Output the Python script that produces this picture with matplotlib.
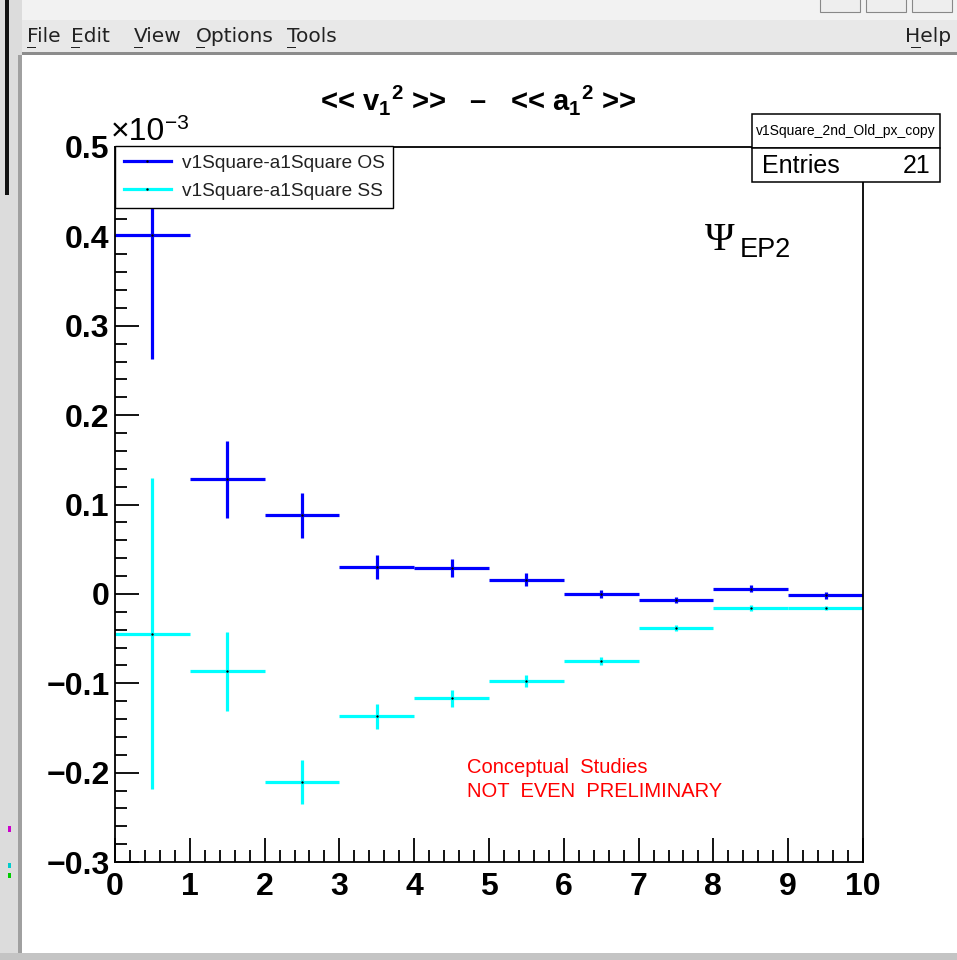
import numpy as np
import matplotlib
matplotlib.use('Agg')
import matplotlib.pyplot as plt
from matplotlib.patches import Rectangle
from matplotlib.lines import Line2D
from matplotlib.ticker import MultipleLocator, FuncFormatter

# bin centres (x error = half bin width)
bin_centers = [0.5, 1.5, 2.5, 3.5, 4.5, 5.5, 6.5, 7.5, 8.5, 9.5]
bin_half_width = 0.5

# values in units of 1e-3
os_values = [0.401, 0.128, 0.088, 0.0305, 0.0287, 0.016, 0.0003, -0.0067, 0.0056, -0.0015]
os_errors = [0.138, 0.043, 0.025, 0.0134, 0.010, 0.007, 0.0045, 0.003, 0.004, 0.004]
ss_values = [-0.0447, -0.0865, -0.2105, -0.137, -0.117, -0.0976, -0.075, -0.0383, -0.016, -0.0157]
ss_errors = [0.174, 0.044, 0.0245, 0.014, 0.010, 0.007, 0.0045, 0.003, 0.003, 0.002]

series_labels = ['v1Square-a1Square OS', 'v1Square-a1Square SS']
series_colors = ['#0000ff', '#00ffff']
menu_items = ['File', 'Edit', 'View', 'Options', 'Tools']
menu_x = [27, 71, 134, 196, 287]

W, H = 957, 960
plt.rcParams['font.family'] = ['Liberation Sans', 'DejaVu Sans']
plt.rcParams['mathtext.fontset'] = 'custom'
plt.rcParams['mathtext.rm'] = 'Liberation Sans'
plt.rcParams['mathtext.bf'] = 'Liberation Sans:bold'
plt.rcParams['mathtext.it'] = 'Liberation Sans:italic'


def fx(px):
    return px / W


def fy(py):
    return 1 - py / H


def rect(fig, x0, y0, x1, y1, color, ec='none', lw=0, z=0):
    fig.add_artist(Rectangle((fx(x0), fy(y1)), fx(x1) - fx(x0), fy(y0) - fy(y1),
                             transform=fig.transFigure, facecolor=color, edgecolor=ec, lw=lw, zorder=z))


def main():
    fig = plt.figure(figsize=(W / 100, H / 100), dpi=100)
    fig.patch.set_facecolor('white')

    # window chrome
    rect(fig, 0, 0, W, 20, '#f2f2f2')
    rect(fig, 0, 20, W, 53, '#e8e8e8')
    rect(fig, 10, 52, W, 55, '#8c8c8c')
    rect(fig, 0, 0, 22, H, '#dcdcdc')
    rect(fig, 18, 55, 22, 953, '#a0a0a0')
    rect(fig, 0, 953, W, H, '#c4c4c4')
    rect(fig, 5, 0, 9, 195, '#111111')
    for bx in [820, 866, 912]:
        rect(fig, bx, -2, bx + 40, 12, '#eeeeee', ec='#888888', lw=0.8)
    rect(fig, 8, 826, 11, 832, '#cc00cc')
    rect(fig, 8, 863, 11, 868, '#00cccc')
    rect(fig, 8, 873, 11, 878, '#00cc00')
    for item, mx in zip(menu_items, menu_x):
        fig.text(fx(mx), fy(37), item, fontsize=14.5, family='DejaVu Sans', va='center', ha='left',
                 color='#222222')
        rect(fig, mx, 47, mx + 9, 48.3, '#222222')
    fig.text(fx(951), fy(37), 'Help', fontsize=14.5, va='center', ha='right', color='#222222',
             family='DejaVu Sans')
    rect(fig, 911, 47, 921, 48.3, '#222222')

    # main axes
    ax = fig.add_axes([fx(115), fy(862), fx(863) - fx(115), fy(147) - fy(862)])
    ax.set_xlim(0, 10)
    ax.set_ylim(-0.3, 0.5)
    for sp in ax.spines.values():
        sp.set_linewidth(1.3)
    ax.xaxis.set_major_locator(MultipleLocator(1))
    ax.xaxis.set_minor_locator(MultipleLocator(0.2))
    ax.yaxis.set_major_locator(MultipleLocator(0.1))
    ax.yaxis.set_minor_locator(MultipleLocator(0.02))
    ax.tick_params(which='both', direction='in', width=1.3, top=False, right=False)
    ax.tick_params(which='major', length=17, labelsize=23)
    ax.tick_params(axis='y', which='major', pad=4)
    ax.tick_params(axis='x', which='major', pad=7)
    ax.tick_params(which='minor', length=8.5)

    def yfmt(v, pos):
        v = round(v, 3)
        if abs(v) < 1e-9:
            return '0'
        return f'{v:.1f}'.replace('-', '\u2212')

    ax.yaxis.set_major_formatter(FuncFormatter(yfmt))
    ax.xaxis.set_major_formatter(FuncFormatter(lambda v, p: f'{int(round(v))}'))
    for lab in ax.get_xticklabels() + ax.get_yticklabels():
        lab.set_fontweight('bold')

    handles = []
    for vals, errs, col, lab in [(os_values, os_errors, series_colors[0], series_labels[0]),
                                 (ss_values, ss_errors, series_colors[1], series_labels[1])]:
        ax.errorbar(bin_centers, vals, xerr=bin_half_width, yerr=errs, fmt='none', ecolor=col,
                    elinewidth=2.3, capsize=0, clip_on=True)
        ax.plot(bin_centers, vals, ls='none', marker='.', markersize=1.5, color='black')
        handles.append(Line2D([0], [0], color=col, lw=2.3, marker='.', markersize=1.5,
                              markerfacecolor='black', markeredgecolor='black'))

    leg = ax.legend(handles, series_labels, loc='upper left', bbox_to_anchor=(0, 1.0015),
                    frameon=True, fancybox=False, edgecolor='black', fontsize=13.7, framealpha=1,
                    handlelength=2.5, handletextpad=0.55, borderpad=0.45, labelspacing=0.55,
                    borderaxespad=0)
    leg.get_frame().set_linewidth(1.0)
    leg.set_zorder(10)
    for t in leg.get_texts():
        t.set_color('#222222')

    # exponent label
    fig.text(fx(111), fy(140), '\u00d710', fontsize=23, ha='left', va='baseline')
    fig.text(fx(165), fy(129), '\u22123', fontsize=15, ha='left', va='baseline')

    # title
    fig.text(fx(478), fy(100),
             '<< $\\mathbf{v_{1}{}^{2}}$ >>   \u2013   << $\\mathbf{a_{1}{}^{2}}$ >>',
             fontsize=21, fontweight='bold', ha='center', va='center')

    # stats box
    rect(fig, 752, 114, 940, 148, 'white', ec='black', lw=1.1, z=5)
    rect(fig, 752, 148, 940, 182, 'white', ec='black', lw=1.1, z=5)
    fig.text(fx(846), fy(131), 'v1Square_2nd_Old_px_copy', fontsize=10, ha='center', va='center', zorder=6)
    fig.text(fx(762), fy(166), 'Entries', fontsize=18, ha='left', va='center', zorder=6)
    fig.text(fx(931), fy(166), f'{2 * len(bin_centers) + 1}', fontsize=18, ha='right', va='center', zorder=6)

    # event plane label
    fig.text(fx(705), fy(250), '\u03a8', fontsize=29, ha='left', va='baseline', family='Liberation Serif')
    fig.text(fx(740), fy(257), 'EP2', fontsize=19.5, ha='left', va='baseline')

    fig.text(fx(467), fy(773), 'Conceptual  Studies', fontsize=14.5, color='red', ha='left', va='baseline')
    fig.text(fx(467), fy(797), 'NOT  EVEN  PRELIMINARY', fontsize=14.5, color='red', ha='left', va='baseline')

    fig.savefig('out.png', dpi=100)


if __name__ == '__main__':
    main()
